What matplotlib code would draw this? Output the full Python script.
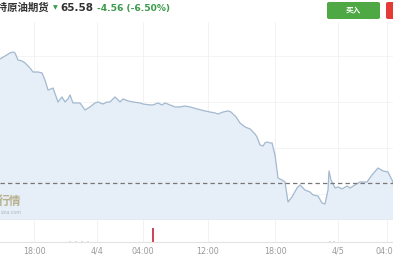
import matplotlib
matplotlib.use("Agg")
import matplotlib.pyplot as plt
from matplotlib.patches import FancyBboxPatch

plt.rcParams['font.family'] = ['Noto Sans CJK SC', 'DejaVu Sans']

# ---- data ----
title_name = "布伦特原油期货"
last_price = "65.58"
change_text = "-4.56 (-6.50%)"
buy_label = "买入"

t = [0, 5, 10, 13, 15, 18, 22, 25, 30, 33, 38, 42, 45, 48, 51, 53, 58, 62, 65, 68,
     70, 73, 80, 85, 90, 95, 98, 103, 107, 110, 115, 120, 123, 128, 133, 140, 143, 150,
     153, 158, 162, 165, 170, 175, 180, 185, 190, 197, 205, 210, 215, 218, 223, 228,
     231, 236, 240, 245, 250, 252, 255, 257, 260, 263, 265, 267, 270, 272, 275, 278,
     282, 285, 288, 292, 297, 300, 305, 310, 313, 318, 322, 325, 328, 329, 331, 335,
     338, 342, 347, 350, 355, 360, 367, 372, 378, 383, 388, 392, 393]
price = [74.66, 74.88, 75.11, 75.18, 75.11, 74.58, 74.51, 74.36, 73.98, 73.68, 73.68,
         73.61, 73.08, 72.33, 72.41, 72.48, 71.43, 71.81, 71.43, 71.66, 71.96, 71.36,
         71.36, 70.83, 71.06, 71.36, 71.43, 71.28, 71.43, 71.43, 71.81, 71.43, 71.66,
         71.51, 71.43, 71.36, 71.28, 71.21, 71.21, 71.36, 71.21, 71.36, 71.21, 71.06,
         71.06, 71.13, 71.06, 70.91, 70.76, 70.68, 70.61, 70.53, 70.68, 70.76, 70.68,
         70.31, 69.86, 69.56, 69.41, 69.26, 69.03, 68.81, 68.21, 68.13, 68.36, 68.43,
         68.36, 68.36, 67.46, 65.73, 65.58, 65.43, 63.93, 64.31, 64.98, 65.21, 64.83,
         64.68, 64.46, 64.38, 63.86, 63.78, 64.83, 66.26, 65.58, 64.98, 65.06, 64.91,
         65.13, 64.98, 65.21, 65.43, 65.43, 65.96, 66.48, 66.26, 66.18, 65.58, 65.40]
ref_price = 65.32
grid_levels = [64.53, 67.98, 71.43, 74.88]

vol_t = [70, 76, 82, 88, 153, 330, 334]
vol = [0.05, 0.06, 0.05, 0.05, 0.64, 0.06, 0.05]
vol_colors = ['#dddddd', '#dddddd', '#dddddd', '#dddddd', '#c9485b', '#dddddd', '#dddddd']

tick_pos = [34, 97, 143, 208, 275, 338, 387]
tick_labels = ["18:00", "4/4", "04:00", "12:00", "18:00", "4/5", "04:00"]

# ---- figure ----
W, H = 393, 267
fig = plt.figure(figsize=(W / 100, H / 100), dpi=100)
fig.patch.set_facecolor('white')

def fy(py):
    return 1 - py / H

ymin, ymax = 62.58, 77.43
ax = fig.add_axes([0, fy(220), 1, (220 - 22) / H])
ax.set_xlim(0, 393)
ax.set_ylim(ymin, ymax)
ax.fill_between(t, price, ymin, color='#e6eef7', lw=0, zorder=1)
ax.plot(t, price, color='#a3b9cf', lw=0.9, zorder=3)
ax.axhline(ref_price, color='#777777', lw=0.9, ls=(0, (3.5, 2.5)), zorder=4)
for g in grid_levels:
    ax.axhline(g, color='#f3f3f3', lw=0.6, zorder=0.5)
for p in tick_pos:
    ax.axvline(p, color='#f0f0f0', lw=0.6, zorder=0.5)
ax.axhline(ymin, color='#d8dde3', lw=1.0, zorder=4)
ax.set_axis_off()

# watermark
ax.text(21, 63.95, "行情", ha='right', va='center', fontsize=8.5, fontweight='bold',
        color='#9a8a45', alpha=0.6, zorder=2)
ax.text(1, 63.15, "sina.com", ha='left', va='center', fontsize=3.5, color='#aab4bf',
        zorder=2)

axv = fig.add_axes([0, fy(242), 1, 22 / H])
axv.set_xlim(0, 393)
axv.set_ylim(0, 1)
axv.bar(vol_t, vol, width=1.6, color=vol_colors, zorder=2)
for p in tick_pos:
    axv.axvline(p, color='#f0f0f0', lw=0.6, zorder=0.5)
for s in ['top', 'left', 'right']:
    axv.spines[s].set_visible(False)
axv.spines['bottom'].set_color('#e3e3e3')
axv.spines['bottom'].set_linewidth(0.8)
axv.set_yticks([])
axv.set_xticks(tick_pos)
axv.set_xticklabels(tick_labels, fontsize=5.8, color='#9a9a9a', family=['DejaVu Sans'])
axv.tick_params(axis='x', length=0, pad=3.5)

# header
fig.text(49 / W, fy(8), title_name, ha='right', va='center', fontsize=7.5,
         color='#333333', fontweight='bold')
fig.text(55 / W, fy(8), "▼", ha='center', va='center', fontsize=4.5, color='#3a9a4a',
         family=['DejaVu Sans'])
fig.text(60 / W, fy(8), last_price, ha='left', va='center', fontsize=7.5,
         color='#333333', fontweight='bold', family=['DejaVu Sans'])
fig.text(97 / W, fy(8), change_text, ha='left', va='center', fontsize=6.6,
         color='#3a9a4a', fontweight='bold', family=['DejaVu Sans'])

btn = FancyBboxPatch((327 / W, fy(19)), 53 / W, 17 / H,
                     boxstyle="round,pad=0,rounding_size=0.006",
                     transform=fig.transFigure, facecolor='#4ea843', edgecolor='none')
fig.patches.append(btn)
fig.text(353.5 / W, fy(10.5), buy_label, ha='center', va='center', fontsize=5.5,
         color='white', fontweight='bold')
btn2 = FancyBboxPatch((386 / W, fy(19)), 12 / W, 17 / H,
                      boxstyle="round,pad=0,rounding_size=0.006",
                      transform=fig.transFigure, facecolor='#e53a35', edgecolor='none')
fig.patches.append(btn2)

fig.savefig("out.png", dpi=100)
